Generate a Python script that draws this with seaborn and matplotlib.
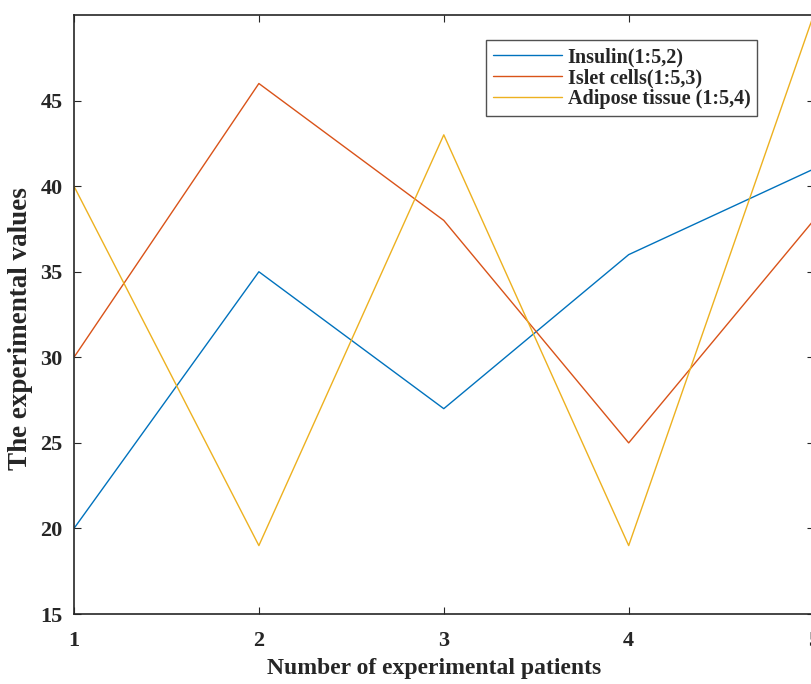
import matplotlib
matplotlib.use("Agg")
import matplotlib.pyplot as plt
import pandas as pd
import seaborn as sns

sns.set_theme(style="ticks")
plt.rcParams["font.family"] = ["Liberation Serif", "DejaVu Serif"]
plt.rcParams["font.weight"] = "bold"

patients = [1, 2, 3, 4, 5]
insulin = [20, 35, 27, 36, 41]
islet = [30, 46, 38, 25, 38]
adipose = [40, 19, 43, 19, 50]
labels = ["Insulin(1:5,2)", "Islet cells(1:5,3)", "Adipose tissue (1:5,4)"]
colors = ["#0072BD", "#D95319", "#EDB120"]

df = pd.DataFrame({
    "x": patients * 3,
    "y": insulin + islet + adipose,
    "series": [labels[0]] * 5 + [labels[1]] * 5 + [labels[2]] * 5,
})

fig = plt.figure(figsize=(8.11, 6.84), dpi=100)
ax = fig.add_axes([0.0912, 0.1023, 0.912, 0.8757])

sns.lineplot(data=df, x="x", y="y", hue="series", palette=colors,
             linewidth=1.0, ax=ax)

ax.set_xlim(1, 5)
ax.set_ylim(15, 50)
ax.set_xticks([1, 2, 3, 4, 5])
ax.set_yticks([15, 20, 25, 30, 35, 40, 45])
ax.tick_params(direction="in", length=5, width=0.8, labelsize=16,
               top=True, right=True, colors="#262626")
ax.tick_params(axis="x", pad=12)
ax.tick_params(axis="y", pad=8)
for lab in ax.get_xticklabels() + ax.get_yticklabels():
    lab.set_fontweight("bold")
for s in ax.spines.values():
    s.set_linewidth(1.2)
    s.set_color("#262626")

ax.set_xlabel("Number of experimental patients", fontsize=17,
              fontweight="bold", color="#262626")
ax.set_ylabel("The experimental values", fontsize=19.5,
              fontweight="bold", color="#262626")
ax.xaxis.set_label_coords(0.487, -0.074)
ax.yaxis.set_label_coords(-0.056, 0.476)

leg = ax.legend(loc="upper right", bbox_to_anchor=(0.924, 0.958),
                borderaxespad=0, frameon=True, fancybox=False,
                handlelength=3.4, labelspacing=0.05,
                borderpad=0.35, handletextpad=0.3,
                prop={"weight": "bold", "size": 14.5})
leg.get_frame().set_edgecolor("#262626")
leg.get_frame().set_linewidth(1.0)

fig.savefig("out.png", dpi=100)
